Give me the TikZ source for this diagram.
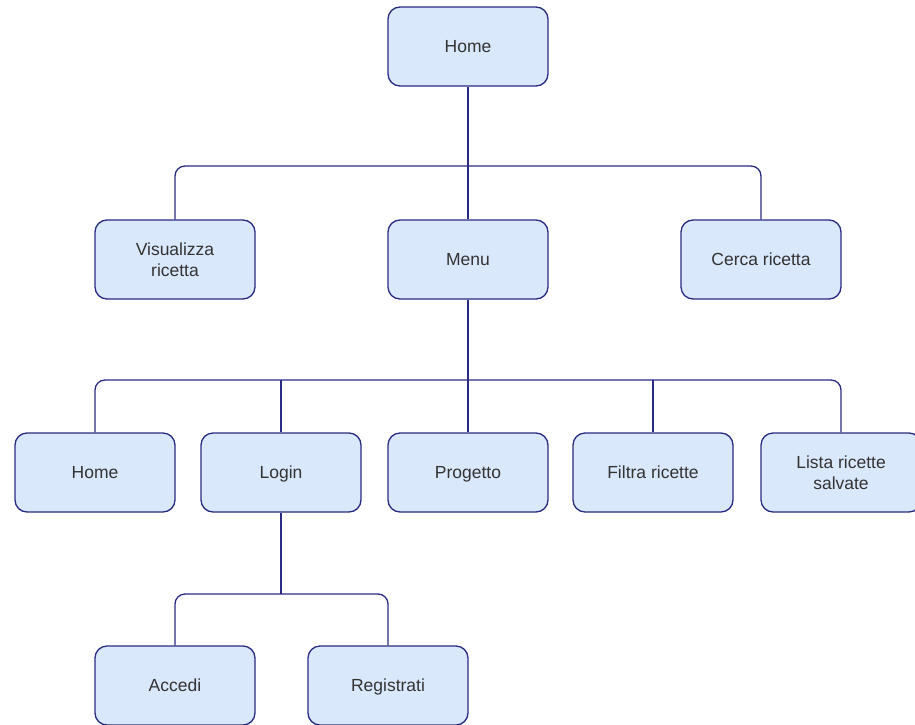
\documentclass[tikz,border=0pt]{standalone}
\usepackage{fontspec}
\setmainfont{Liberation Sans}
\definecolor{boxfill}{HTML}{DAE8FC}
\definecolor{navy}{HTML}{2A2A82}
\definecolor{txt}{HTML}{333333}
\newcommand{\ls}{\rule[-3.5pt]{0pt}{19.5pt}}
\begin{document}
\begin{tikzpicture}[x=1pt,y=-1pt,
  box/.style={draw=navy,fill=boxfill,line width=1.3pt,rounded corners=12pt,
    minimum width=160pt,minimum height=79pt,inner sep=2pt,align=center,
    text=txt,font=\fontsize{17.5}{21}\selectfont},
  link/.style={draw=navy,line width=1.3pt,rounded corners=10pt}]
\useasboundingbox (0,0) rectangle (915,725);
\node[box] (home) at (468,46.5) {\ls Home};
\node[box] (vis) at (175,259.5) {\ls Visualizza\\\ls ricetta};
\node[box] (menu) at (468,259.5) {\ls Menu};
\node[box] (cerca) at (761,259.5) {\ls Cerca ricetta};
\node[box] (home2) at (95,472.5) {\ls Home};
\node[box] (login) at (281,472.5) {\ls Login};
\node[box] (prog) at (468,472.5) {\ls Progetto};
\node[box] (filtra) at (653,472.5) {\ls Filtra ricette};
\node[box] (lista) at (841,472.5) {\ls Lista ricette\\\ls salvate};
\node[box] (acc) at (175,685.5) {\ls Accedi};
\node[box] (reg) at (388,685.5) {\ls Registrati};
\coordinate (bus1) at (468,166);
\coordinate (bus2) at (468,380);
\coordinate (bus3) at (281,594);
\draw[link] (home.south) -- (menu.north);
\draw[link] (vis.north) |- (bus1) -| (cerca.north);
\draw[link] (menu.south) -- (prog.north);
\draw[link] (home2.north) |- (bus2) -| (lista.north);
\draw[link] (login.north) -- (login.north |- bus2);
\draw[link] (filtra.north) -- (filtra.north |- bus2);
\draw[link] (login.south) -- (bus3);
\draw[link] (acc.north) |- (bus3) -| (reg.north);
\end{tikzpicture}
\end{document}
